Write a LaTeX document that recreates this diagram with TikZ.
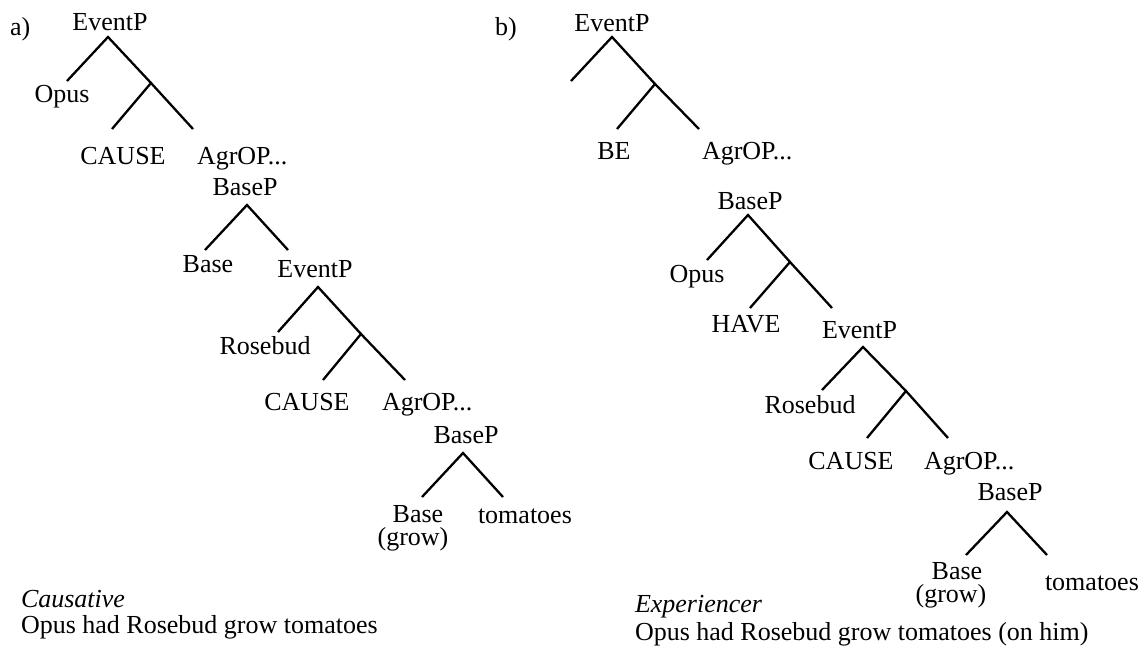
\documentclass[tikz,border=0pt]{standalone}
\usepackage{fontspec}
\setmainfont{Liberation Serif}
\newcommand\lbfont{\fontsize{26}{26}\selectfont}
\begin{document}
\begin{tikzpicture}[x=1pt,y=-1pt,
  lbl/.style={inner sep=0pt, outer sep=0pt, anchor=base, font=\lbfont},
  lblw/.style={lbl, anchor=base west},
  capt/.style={lblw, font=\lbfont\itshape},
  branch/.style={line width=2.3pt, line cap=butt}]
\useasboundingbox (0,0) rectangle (1146,652);

% ---------------- tree a ----------------
\node[lblw] (la) at (10,36) {a)};
\node[lbl] (aE1) at (110,31) {EventP};
\node[lbl] (aOpus) at (62,103) {Opus};
\node[lbl] (aC1) at (123,165) {CAUSE};
\node[lblw] (aAg1) at (197,165) {AgrOP...};
\node[lbl] (aB1) at (245,196) {BaseP};
\node[lbl] (aBase1) at (208,273) {Base};
\node[lbl] (aE2) at (315,278) {EventP};
\node[lbl] (aRose) at (265,355) {Rosebud};
\node[lbl] (aC2) at (307,410) {CAUSE};
\node[lblw] (aAg2) at (382,410) {AgrOP...};
\node[lbl] (aB2) at (466,443) {BaseP};
\node[lbl] (aBase2) at (418,522) {Base};
\node[lbl] (aGrow) at (413,545) {(grow)};
\node[lblw] (aTom) at (478,523) {tomatoes};
\node[capt] (aCap1) at (21,607) {Causative};
\node[lblw] (aCap2) at (21,633) {Opus had Rosebud grow tomatoes};

\coordinate (a1) at (108,37);
\coordinate (a1l) at (67,81);
\coordinate (a2) at (151,83);
\coordinate (a2l) at (112,129);
\coordinate (a2r) at (193,129);
\coordinate (a3) at (247,205);
\coordinate (a3l) at (205,250);
\coordinate (a3r) at (288,250);
\coordinate (a4) at (318,287);
\coordinate (a4l) at (278,332);
\coordinate (a5) at (361,334);
\coordinate (a5l) at (323,380);
\coordinate (a5r) at (405,380);
\coordinate (a6) at (463,453);
\coordinate (a6l) at (422,497);
\coordinate (a6r) at (503,497);

\draw[branch] (a1l) -- (a1) -- (a2);
\draw[branch] (a2l) -- (a2) -- (a2r);
\draw[branch] (a3l) -- (a3) -- (a3r);
\draw[branch] (a4l) -- (a4) -- (a5);
\draw[branch] (a5l) -- (a5) -- (a5r);
\draw[branch] (a6l) -- (a6) -- (a6r);

% ---------------- tree b ----------------
\node[lblw] (lb) at (495,36) {b)};
\node[lbl] (bE1) at (612,32) {EventP};
\node[lbl] (bBE) at (614,160) {BE};
\node[lblw] (bAg1) at (702,160) {AgrOP...};
\node[lbl] (bB1) at (750,210) {BaseP};
\node[lbl] (bOpus) at (697,283) {Opus};
\node[lbl] (bHave) at (746,333) {HAVE};
\node[lblw] (bE2) at (822,338) {EventP};
\node[lbl] (bRose) at (810,413) {Rosebud};
\node[lbl] (bC) at (851,469) {CAUSE};
\node[lblw] (bAg2) at (924,469) {AgrOP...};
\node[lbl] (bB2) at (1010,500) {BaseP};
\node[lbl] (bBase) at (957,579) {Base};
\node[lbl] (bGrow) at (951,602) {(grow)};
\node[lblw] (bTom) at (1045,590) {tomatoes};
\node[capt] (bCap1) at (635,612) {Experiencer};
\node[lblw] (bCap2) at (635,640) {Opus had Rosebud grow tomatoes (on him)};

\coordinate (b1) at (612,37);
\coordinate (b1l) at (571,81);
\coordinate (b2) at (655,84);
\coordinate (b2l) at (617,129);
\coordinate (b2r) at (699,129);
\coordinate (b3) at (748,215);
\coordinate (b3l) at (707,260);
\coordinate (b4) at (790,262);
\coordinate (b4l) at (750,308);
\coordinate (b4r) at (832,308);
\coordinate (b5) at (863,347);
\coordinate (b5l) at (822,390);
\coordinate (b6) at (906,391);
\coordinate (b6l) at (867,438);
\coordinate (b6r) at (948,438);
\coordinate (b7) at (1007,512);
\coordinate (b7l) at (966,555);
\coordinate (b7r) at (1047,555);

\draw[branch] (b1l) -- (b1) -- (b2);
\draw[branch] (b2l) -- (b2) -- (b2r);
\draw[branch] (b3l) -- (b3) -- (b4);
\draw[branch] (b4l) -- (b4) -- (b4r);
\draw[branch] (b5l) -- (b5) -- (b6);
\draw[branch] (b6l) -- (b6) -- (b6r);
\draw[branch] (b7l) -- (b7) -- (b7r);
\end{tikzpicture}
\end{document}
